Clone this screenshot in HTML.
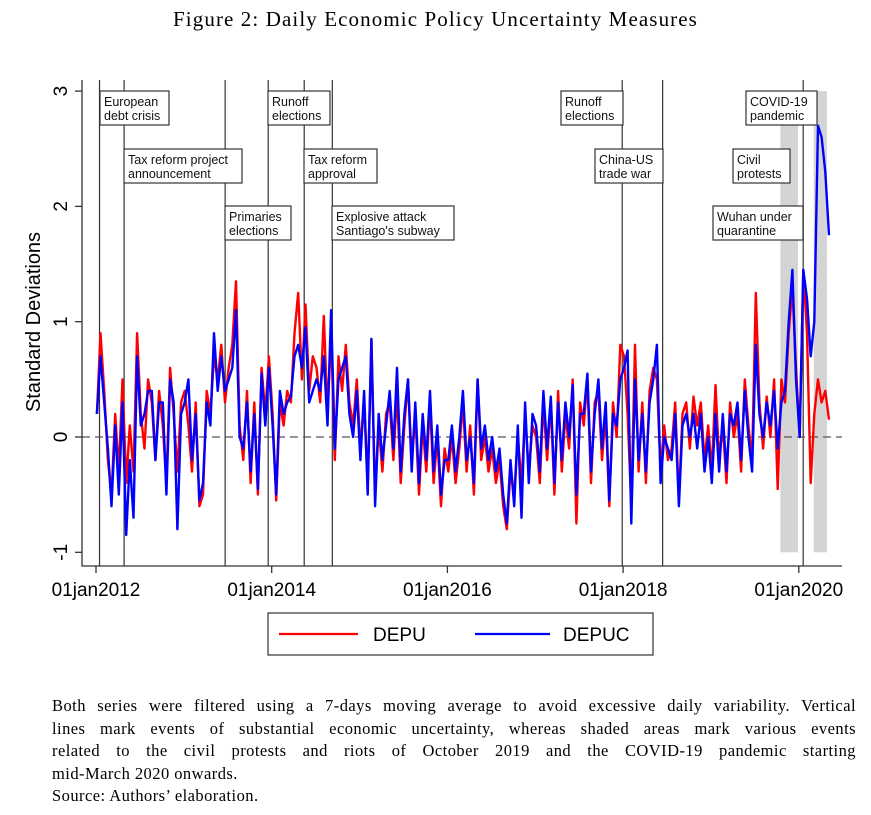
<!DOCTYPE html>
<html><head><meta charset="utf-8"><style>
body{margin:0;background:#fff;width:871px;height:815px;overflow:hidden;position:relative}
.t{position:absolute;font-family:"Liberation Serif",serif;color:#000}
.cap{position:absolute;left:52px;width:804px;font-family:"Liberation Serif",serif;font-size:16.5px;line-height:22.5px;letter-spacing:0.45px}
.j{text-align:justify;text-align-last:justify;height:22.5px}
</style></head><body>
<div class="t" style="left:0;width:871px;top:7px;text-align:center;font-size:21px;letter-spacing:1.1px">Figure 2: Daily Economic Policy Uncertainty Measures</div>
<svg id="chart" width="871" height="680" style="position:absolute;left:0;top:0" font-family="Liberation Sans, sans-serif"></svg>
<div class="cap" style="top:695px">
<div class="j">Both series were filtered using a 7-days moving average to avoid excessive daily variability. Vertical</div>
<div class="j">lines mark events of substantial economic uncertainty, whereas shaded areas mark various events</div>
<div class="j">related to the civil protests and riots of October 2019 and the COVID-19 pandemic starting</div>
<div>mid-March 2020 onwards.</div>
<div>Source: Authors’ elaboration.</div>
</div>
<script>
const years=["01jan2012","01jan2014","01jan2016","01jan2018","01jan2020"];
const yearVals=[2012,2014,2016,2018,2020];
const yTicks=[-1,0,1,2,3];
const depu=[0.2,0.9,0.4,-0.2,-0.5,0.2,-0.3,0.5,-0.4,0.1,-0.3,0.9,0.2,-0.1,0.5,0.3,-0.2,0.4,0.1,-0.4,0.6,0.2,-0.3,0.3,
0.4,0.1,-0.3,0.3,-0.6,-0.5,0.4,0.2,0.7,0.5,0.8,0.3,0.6,0.8,1.35,0.1,-0.2,0.4,-0.4,0.3,-0.5,0.6,0.2,0.7,
0.2,-0.55,0.3,0.1,0.4,0.3,0.9,1.25,0.5,1.15,0.4,0.7,0.6,0.3,1.05,0.2,0.9,-0.2,0.7,0.4,0.8,0.3,0.1,0.5,
-0.1,0.3,-0.4,0.85,-0.5,0.1,-0.3,0.2,0.3,-0.2,0.4,-0.4,0.1,0.5,-0.2,0.2,-0.5,0.1,-0.3,0.3,-0.4,0.0,-0.6,-0.1,
-0.3,0.0,-0.4,-0.1,0.3,-0.3,0.1,-0.5,0.5,-0.2,0.0,-0.3,-0.1,-0.4,-0.2,-0.6,-0.8,-0.3,-0.5,0.0,-0.4,0.2,-0.3,0.1,
0.0,-0.4,0.3,-0.2,0.3,-0.5,0.4,-0.3,0.2,-0.1,0.5,-0.75,0.3,0.1,0.5,-0.4,0.3,0.4,-0.2,0.2,-0.6,0.3,0.0,0.8,
0.7,0.2,-0.6,0.8,-0.3,0.3,-0.4,0.4,0.6,0.5,-0.3,0.1,-0.2,-0.1,0.3,-0.55,0.2,0.3,-0.1,0.35,0.1,0.3,-0.2,0.1,
-0.3,0.45,-0.2,0.1,-0.4,0.3,0.0,0.2,-0.3,0.5,0.1,-0.2,1.25,0.3,-0.1,0.35,0.0,0.5,-0.45,0.5,0.3,0.9,1.3,0.6,
0.0,1.45,0.9,-0.4,0.2,0.5,0.3,0.4,0.15];
const depuc=[0.2,0.7,0.3,-0.1,-0.6,0.1,-0.5,0.3,-0.85,-0.2,-0.7,0.7,0.1,0.2,0.4,0.4,-0.2,0.3,0.3,-0.5,0.5,0.3,-0.8,0.2,
0.3,0.5,-0.2,0.2,-0.55,-0.4,0.3,0.1,0.9,0.4,0.7,0.4,0.5,0.6,1.1,0.0,-0.1,0.3,-0.3,0.2,-0.45,0.55,0.1,0.6,
0.1,-0.5,0.4,0.2,0.3,0.35,0.7,0.8,0.6,0.95,0.3,0.4,0.5,0.4,0.7,0.1,1.1,-0.1,0.5,0.6,0.7,0.2,0.0,0.4,
-0.2,0.4,-0.5,0.85,-0.6,0.2,-0.2,0.1,0.4,-0.1,0.6,-0.3,0.2,0.5,-0.3,0.3,-0.4,0.2,-0.2,0.4,-0.3,0.1,-0.5,-0.2,
-0.2,0.1,-0.3,0.0,0.4,-0.2,0.0,-0.4,0.5,-0.1,0.1,-0.2,0.0,-0.3,-0.1,-0.5,-0.75,-0.2,-0.6,0.1,-0.7,0.3,-0.4,0.2,
0.1,-0.3,0.4,-0.1,0.35,-0.4,0.3,-0.2,0.3,0.0,0.45,-0.5,0.2,0.2,0.55,-0.3,0.2,0.5,-0.1,0.3,-0.55,0.2,0.1,0.5,
0.6,0.75,-0.75,0.5,-0.2,0.2,-0.3,0.3,0.5,0.8,-0.4,0.0,-0.1,-0.2,0.2,-0.6,0.1,0.2,0.0,0.2,-0.1,0.2,-0.3,0.0,
-0.4,0.2,-0.3,0.2,-0.3,0.2,0.1,0.3,-0.2,0.4,0.0,-0.3,0.8,0.2,0.0,0.3,0.1,0.4,-0.1,0.3,0.4,1.0,1.45,0.5,
0.0,1.45,1.2,0.7,1.0,2.7,2.6,2.3,1.75];
const eventNames=[["European","debt crisis"],["Tax reform project","announcement"],["Primaries","elections"],["Runoff","elections"],["Tax reform","approval"],["Explosive attack","Santiago's subway"],["Runoff","elections"],["China-US","trade war"],["COVID-19","pandemic"]];
const eventDates=[2012.04,2012.32,2013.47,2013.96,2014.37,2014.69,2017.99,2018.45,2020.05];
const shadeStart=[2019.79,2020.17];
const shadeEnd=[2019.99,2020.32];
const NS="http://www.w3.org/2000/svg";
const svg=document.getElementById('chart');
const X=t=>96+(t-2012)*87.85;
const Y=v=>437-v*115.3;
function mk(tag,attrs,parent){const e=document.createElementNS(NS,tag);for(const k in attrs)e.setAttribute(k,attrs[k]);(parent||svg).appendChild(e);return e;}
shadeStart.forEach((s,i)=>{const r=mk('rect',{x:X(s),y:Y(3),width:X(shadeEnd[i])-X(s),height:Y(-1)-Y(3),fill:'#d4d4d4'});

});
eventDates.forEach(d=>{const l=mk('line',{x1:X(d),x2:X(d),y1:80,y2:566,stroke:'#333','stroke-width':1.2});

});
const z=mk('line',{x1:82,x2:842,y1:Y(0),y2:Y(0),stroke:'#555','stroke-width':1.3,'stroke-dasharray':'8,5'});


function series(arr,col,name){const pts=arr.map((v,i)=>X(2012.01+i/24).toFixed(1)+','+Y(v).toFixed(1)).join(' ');
const p=mk('polyline',{points:pts,fill:'none',stroke:col,'stroke-width':2.4,'stroke-linejoin':'round'});

}
series(depu,'#ff0000','depu-line');
series(depuc,'#0000ff','depuc-line');
const boxes=[[100,91,69],[124,149,118],[225,206,66],[268,91,62],[304,149,73],[332,206,122],[561,91,62],[595,149,68],[746,91,71]];
const extra=[[["Civil","protests"],733,149,57],[["Wuhan under","quarantine"],713,206,90]];
function label(lines,x,y,w){const g=mk('g',{});


mk('rect',{x:x,y:y,width:w,height:34,fill:'#fff',stroke:'#333','stroke-width':1.2},g);
lines.forEach((s,k)=>{const t=mk('text',{x:x+4,y:y+15+k*14,'font-size':12.5,fill:'#111'},g);t.textContent=s;});}
eventNames.forEach((n,i)=>label(n,boxes[i][0],boxes[i][1],boxes[i][2]));
extra.forEach(e=>label(e[0],e[1],e[2],e[3]));
const ax=mk('path',{d:'M82,80 V566 H842',fill:'none',stroke:'#333','stroke-width':1.3});


yTicks.forEach(v=>{mk('line',{x1:75,x2:82,y1:Y(v),y2:Y(v),stroke:'#333','stroke-width':1.3});
const t=mk('text',{x:0,y:0,'font-size':19,'text-anchor':'middle',transform:`translate(67,${Y(v)}) rotate(-90)`});


t.textContent=v;});
yearVals.forEach((v,i)=>{mk('line',{x1:X(v),x2:X(v),y1:566,y2:573,stroke:'#333','stroke-width':1.3});
const t=mk('text',{x:X(v),y:596,'font-size':19,'text-anchor':'middle'});


t.textContent=years[i];});
const yt=mk('text',{x:0,y:0,'font-size':20,'text-anchor':'middle',transform:'translate(40,322) rotate(-90)'});


yt.textContent='Standard Deviations';
const lg=mk('g',{});


mk('rect',{x:268,y:613,width:385,height:42,fill:'#fff',stroke:'#333','stroke-width':1.2},lg);
mk('line',{x1:279,x2:358,y1:634,y2:634,stroke:'#ff0000','stroke-width':2.2},lg);
mk('line',{x1:475,x2:550,y1:634,y2:634,stroke:'#0000ff','stroke-width':2.2},lg);
const l1=mk('text',{x:373,y:641,'font-size':19},lg);l1.textContent='DEPU';
const l2=mk('text',{x:563,y:641,'font-size':19},lg);l2.textContent='DEPUC';
</script>
</body></html>
